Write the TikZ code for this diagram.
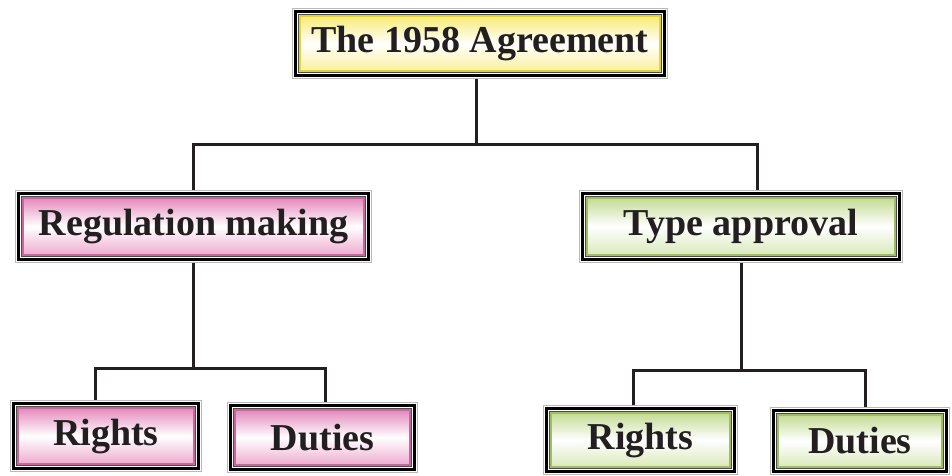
\documentclass[tikz,border=0pt]{standalone}
\usepackage{fontspec}
\setmainfont{Liberation Serif}
\definecolor{lineC}{HTML}{231F20}
\definecolor{yelA}{HTML}{F7EA6E}
\definecolor{yelB}{HTML}{F9F09A}
\definecolor{yelBand}{HTML}{E2D23C}
\definecolor{pinkA}{HTML}{E385BA}
\definecolor{pinkB}{HTML}{EDA8CD}
\definecolor{pinkBand}{HTML}{C8679C}
\definecolor{grnA}{HTML}{C2DA90}
\definecolor{grnB}{HTML}{D8E8B8}
\definecolor{grnBand}{HTML}{A2BC66}
\tikzset{
  fbox/.style args={#1/#2/#3}{minimum width=#1pt-14pt, minimum height=#2pt-14pt,
    inner sep=0pt, outer sep=7pt, font=\fontsize{38}{40}\selectfont\bfseries, text=lineC,
    top color=#3A, bottom color=#3B, middle color=white},
  conn/.style={draw=lineC, line width=3pt},
}
\newcommand\frameit[2]{%
  \draw[gray!55, line width=1.2pt] ([shift={(0.6pt,-0.6pt)}]#1.north west) rectangle ([shift={(-0.6pt,0.6pt)}]#1.south east);
  \draw[black, line width=3pt] ([shift={(3.6pt,-3.6pt)}]#1.north west) rectangle ([shift={(-3.6pt,3.6pt)}]#1.south east);
  \draw[black!70, line width=0.8pt] ([shift={(6.4pt,-6.4pt)}]#1.north west) rectangle ([shift={(-6.4pt,6.4pt)}]#1.south east);
  \draw[#2, line width=1.6pt] ([shift={(7.8pt,-7.8pt)}]#1.north west) rectangle ([shift={(-7.8pt,7.8pt)}]#1.south east);
}
\begin{document}
\begin{tikzpicture}[x=1pt,y=-1pt]
\useasboundingbox (0,0) rectangle (952,475);
% nodes
\node[fbox=376/71/yel] (top) at (480,43.5) {The 1958 Agreement};
\node[fbox=357/73/pink] (reg) at (193.5,226.5) {Regulation making};
\node[fbox=324/73/grn] (type) at (741,226.5) {Type approval};
\node[fbox=192/72/pink] (rl) at (106,436) {Rights};
\node[fbox=191/71/pink] (dl) at (322.5,437.5) {Duties};
\node[fbox=195/70/grn] (rr) at (640.5,440) {Rights};
\node[fbox=180/68/grn] (dr) at (860,441) {Duties};
\frameit{top}{yelBand}
\frameit{reg}{pinkBand}
\frameit{type}{grnBand}
\frameit{rl}{pinkBand}
\frameit{dl}{pinkBand}
\frameit{rr}{grnBand}
\frameit{dr}{grnBand}
% junctions
\coordinate (j0) at (476,144);
\coordinate (jl) at (193,144);
\coordinate (jr) at (757,144);
\coordinate (kL) at (193,368);
\coordinate (kl1) at (95,368);
\coordinate (kl2) at (325,368);
\coordinate (kR) at (741,370);
\coordinate (kr1) at (633,370);
\coordinate (kr2) at (865,370);
% connectors
\draw[conn] (j0 |- top.south) -- (j0);
\draw[conn] (jl |- reg.north) -- (jl) -- (jr) -- (jr |- type.north);
\draw[conn] (kL |- reg.south) -- (kL);
\draw[conn] (kl1 |- rl.north) -- (kl1) -- (kl2) -- (kl2 |- dl.north);
\draw[conn] (kR |- type.south) -- (kR);
\draw[conn] (kr1 |- rr.north) -- (kr1) -- (kr2) -- (kr2 |- dr.north);
\end{tikzpicture}
\end{document}
